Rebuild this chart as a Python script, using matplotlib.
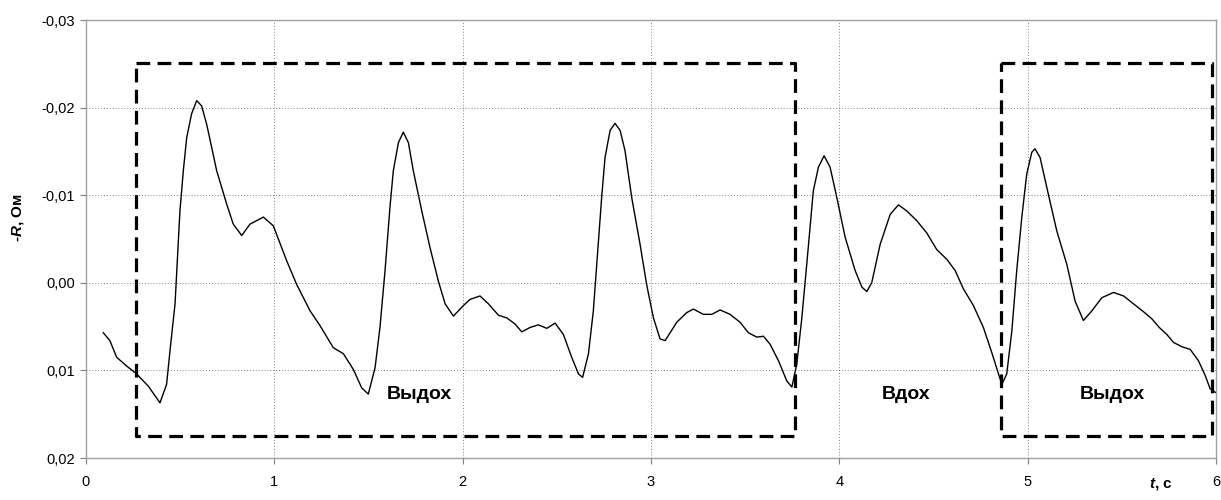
import matplotlib
matplotlib.use("Agg")
import matplotlib.pyplot as plt
from matplotlib.ticker import FuncFormatter

plt.rcParams['font.family'] = ['Liberation Sans', 'DejaVu Sans']
plt.rcParams['mathtext.fontset'] = 'custom'
plt.rcParams['mathtext.it'] = 'Liberation Sans:bold:italic'
plt.rcParams['mathtext.rm'] = 'Liberation Sans:bold'

# ---- data ----
t = [0.092, 0.127, 0.163, 0.216, 0.269, 0.331, 0.393, 0.428, 0.446, 0.473, 0.499, 0.517,
     0.535, 0.561, 0.588, 0.614, 0.641, 0.694, 0.747, 0.782, 0.827, 0.871, 0.942, 0.995,
     1.066, 1.119, 1.19, 1.243, 1.313, 1.367, 1.42, 1.464, 1.499, 1.535, 1.561, 1.588,
     1.614, 1.632, 1.659, 1.685, 1.712, 1.738, 1.783, 1.827, 1.871, 1.907, 1.951, 1.986,
     2.004, 2.039, 2.092, 2.137, 2.190, 2.234, 2.278, 2.314, 2.358, 2.402, 2.447, 2.491,
     2.535, 2.579, 2.615, 2.637, 2.668, 2.694, 2.712, 2.738, 2.756, 2.783, 2.809, 2.836,
     2.862, 2.898, 2.942, 2.977, 3.013, 3.048, 3.075, 3.137, 3.190, 3.225, 3.278, 3.323,
     3.367, 3.420, 3.473, 3.517, 3.562, 3.597, 3.632, 3.677, 3.721, 3.748, 3.774, 3.801,
     3.827, 3.862, 3.889, 3.919, 3.951, 3.987, 4.031, 4.084, 4.12, 4.146, 4.172, 4.217,
     4.270, 4.314, 4.358, 4.411, 4.464, 4.517, 4.570, 4.615, 4.659, 4.712, 4.765, 4.81,
     4.845, 4.863, 4.889, 4.916, 4.942, 4.969, 4.995, 5.022, 5.039, 5.066, 5.11, 5.155,
     5.208, 5.252, 5.296, 5.341, 5.394, 5.456, 5.509, 5.562, 5.615, 5.659, 5.699, 5.739,
     5.774, 5.819, 5.863, 5.907, 5.943, 5.969, 5.996]
neg_R = [0.0057, 0.0066, 0.0085, 0.0095, 0.0104, 0.0118, 0.0137, 0.0116, 0.0078, 0.0024, -0.0082, -0.0128,
         -0.0166, -0.0193, -0.0208, -0.0202, -0.0181, -0.0128, -0.0090, -0.0067, -0.0054, -0.0067, -0.0075, -0.0065,
         -0.0025, 0.0002, 0.0032, 0.0049, 0.0074, 0.0081, 0.0099, 0.0120, 0.0127, 0.0097, 0.0051, -0.0014,
         -0.0086, -0.0128, -0.0160, -0.0172, -0.0160, -0.0128, -0.0082, -0.0040, -0.0002, 0.0024, 0.0038, 0.0030,
         0.0026, 0.0019, 0.0015, 0.0024, 0.0037, 0.0040, 0.0047, 0.0056, 0.0051, 0.0048, 0.0052, 0.0046,
         0.0059, 0.0085, 0.0104, 0.0108, 0.0081, 0.0032, -0.0021, -0.0097, -0.0143, -0.0174, -0.0182, -0.0174,
         -0.0151, -0.0097, -0.0044, 0.0002, 0.0040, 0.0064, 0.0066, 0.0045, 0.0034, 0.0030, 0.0036, 0.0036,
         0.0031, 0.0036, 0.0045, 0.0057, 0.0062, 0.0061, 0.0070, 0.0089, 0.0112, 0.0119, 0.0093, 0.0040,
         -0.0021, -0.0105, -0.0132, -0.0145, -0.0132, -0.0097, -0.0052, -0.0014, 0.0005, 0.0010, 0.0000, -0.0044,
         -0.0078, -0.0089, -0.0082, -0.0071, -0.0057, -0.0038, -0.0027, -0.0014, 0.0007, 0.0026, 0.0051, 0.0080,
         0.0104, 0.0116, 0.0104, 0.0055, -0.0014, -0.0075, -0.0124, -0.0149, -0.0153, -0.0143, -0.0101, -0.0059,
         -0.0021, 0.0021, 0.0043, 0.0032, 0.0017, 0.0011, 0.0015, 0.0024, 0.0033, 0.0041, 0.0051, 0.0059,
         0.0068, 0.0073, 0.0076, 0.0089, 0.0106, 0.0121, 0.0125]

phase_names = ["Выдох", "Вдох", "Выдох"]
phase_label_t = [1.77, 4.355, 5.45]
box_t_start = [0.266, 4.86]
box_t_end = [3.765, 5.98]
box_top = -0.0251
box_bottom = 0.0175
label_level = 0.0128

x_ticks = [0, 1, 2, 3, 4, 5, 6]
y_ticks = [-0.03, -0.02, -0.01, 0.00, 0.01, 0.02]

# ---- figure ----
fig = plt.figure(figsize=(12.21, 5.0), dpi=100)
ax = fig.add_axes([0.0704, 0.084, 0.9255, 0.876])

ax.plot(t, neg_R, color='black', lw=1.0, zorder=3)

dash = (0, (4.3, 2.3))
for a, b in zip(box_t_start, box_t_end):
    ax.plot([a, b, b, a, a], [box_top, box_top, box_bottom, box_bottom, box_top],
            color='black', lw=2.3, linestyle=dash, zorder=4, dash_capstyle='butt')

for name, xt in zip(phase_names, phase_label_t):
    ax.text(xt, label_level, name, ha='center', va='center', fontsize=14,
            fontweight='bold', zorder=5)

ax.set_xlim(0, 6)
ax.set_ylim(0.02, -0.03)
ax.set_xticks(x_ticks)
ax.set_yticks(y_ticks)

def yfmt(v, pos):
    s = f"{v:.2f}"
    if s == "-0.00":
        s = "0.00"
    return s.replace('.', ',')

ax.yaxis.set_major_formatter(FuncFormatter(yfmt))
ax.xaxis.set_major_formatter(FuncFormatter(lambda v, p: f"{int(round(v))}"))

ax.grid(True, color='#808080', linestyle=(0, (1, 2)), lw=0.7)
ax.set_axisbelow(True)

for sp in ax.spines.values():
    sp.set_color('#a0a0a0')
    sp.set_linewidth(1.0)

ax.tick_params(axis='both', direction='out', length=4, color='#808080',
               labelsize=10.5, width=0.8)
ax.tick_params(axis='y', pad=4)
ax.tick_params(axis='x', pad=8)

ax.set_ylabel(r"-$\mathit{R}$, Ом", fontsize=11, fontweight='bold', va='center')
ax.yaxis.set_label_coords(-0.060, 0.548)
ax.set_xlabel(r"$\mathit{t}$, с", fontsize=11, fontweight='bold', va='center')
ax.xaxis.set_label_coords(0.951, -0.059)

fig.savefig("out.png", dpi=100)
